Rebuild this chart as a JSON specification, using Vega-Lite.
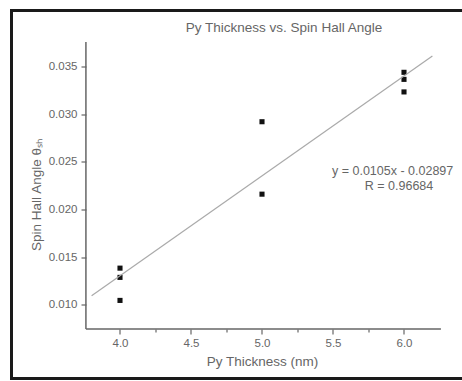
{
  "$schema": "https://vega.github.io/schema/vega-lite/v6.json",
  "autosize": {"type": "none"},
  "padding": {"left": 11.5, "top": 10.5, "right": -1.5, "bottom": 2.5},
  "width": 452,
  "height": 368,
  "background": "white",
  "config": {
    "font": "Liberation Sans",
    "view": {"stroke": "#1a1a1a", "strokeWidth": 3},
    "axis": {"grid": false, "domain": false, "labelFont": "Liberation Sans", "titleFont": "Liberation Sans", "titleFontWeight": "normal", "labelColor": "#666", "titleColor": "#666", "tickColor": "#666", "tickWidth": 1.2}
  },
  "title": {
    "text": "Py Thickness vs. Spin Hall Angle",
    "fontSize": 13.5,
    "fontWeight": "normal",
    "color": "#666",
    "anchor": "middle",
    "frame": "group",
    "offset": -24,
    "dx": 46.5
  },
  "datasets": {
    "points": [
      {"x": 4, "y": 0.01384},
      {"x": 4, "y": 0.01287},
      {"x": 4, "y": 0.01045},
      {"x": 5, "y": 0.02922},
      {"x": 5, "y": 0.02161},
      {"x": 6, "y": 0.03441},
      {"x": 6, "y": 0.03367},
      {"x": 6, "y": 0.03235}
    ],
    "fit": [
      {"x": 3.8, "y": 0.01093},
      {"x": 6.2, "y": 0.03613}
    ],
    "notes": [
      {"x": 5.92, "y": 0.02405, "label": "y = 0.0105x - 0.02897"},
      {"x": 5.965, "y": 0.02251, "label": "R = 0.96684"}
    ]
  },
  "layer": [
    {
      "data": {"name": "points"},
      "mark": {"type": "square", "size": 26, "color": "#111", "opacity": 1},
      "encoding": {
        "x": {
          "field": "x", "type": "quantitative",
          "scale": {"domain": [3.23592, 6.41902], "nice": false, "zero": false},
          "axis": {
            "title": "Py Thickness (nm)",
            "offset": -49.5,
            "values": [4, 4.25, 4.5, 4.75, 5, 5.25, 5.5, 5.75, 6],
            "labelExpr": "round(datum.value*4)%2==1 ? '' : format(datum.value, '.1f')",
            "tickSize": {"condition": {"test": "round(datum.value*4)%2==1", "value": 3}, "value": 5},
            "labelFontSize": 11.5,
            "labelPadding": 3,
            "titleFontSize": 13.5,
            "titlePadding": 6,
            "titleX": 250.5
          }
        },
        "y": {
          "field": "y", "type": "quantitative",
          "scale": {"domain": [0.002248, 0.040903], "nice": false, "zero": false},
          "axis": {
            "title": "Spin Hall Angle θₛₕ",
            "offset": -74.5,
            "values": [0.01, 0.0125, 0.015, 0.0175, 0.02, 0.0225, 0.025, 0.0275, 0.03, 0.0325, 0.035],
            "labelExpr": "round(datum.value*400)%2==1 ? '' : format(datum.value, '.3f')",
            "tickSize": {"condition": {"test": "round(datum.value*400)%2==1", "value": 3}, "value": 5},
            "labelFontSize": 11.5,
            "labelPadding": 4,
            "titleFontSize": 13.5,
            "titlePadding": 5
          }
        }
      }
    },
    {
      "data": {"values": [{}]},
      "mark": {"type": "rule", "color": "#666", "strokeWidth": 1.5},
      "encoding": {
        "x": {"datum": 3.76, "type": "quantitative"},
        "y": {"datum": 0.00745, "type": "quantitative"},
        "x2": {"datum": 6.26}
      }
    },
    {
      "data": {"values": [{}]},
      "mark": {"type": "rule", "color": "#666", "strokeWidth": 1.5},
      "encoding": {
        "x": {"datum": 3.76, "type": "quantitative"},
        "y": {"datum": 0.00745, "type": "quantitative"},
        "y2": {"datum": 0.0376}
      }
    },
    {
      "data": {"name": "fit"},
      "mark": {"type": "line", "color": "#aaa", "strokeWidth": 1.2},
      "encoding": {
        "x": {"field": "x", "type": "quantitative"},
        "y": {"field": "y", "type": "quantitative"}
      }
    },
    {
      "data": {"name": "notes"},
      "mark": {"type": "text", "fontSize": 12.5, "color": "#666", "align": "center", "baseline": "middle"},
      "encoding": {
        "x": {"field": "x", "type": "quantitative"},
        "y": {"field": "y", "type": "quantitative"},
        "text": {"field": "label"}
      }
    }
  ]
}
